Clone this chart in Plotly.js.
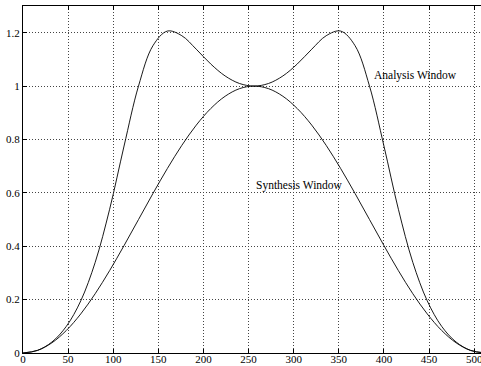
<!DOCTYPE html>
<html>
<head>
<meta charset="utf-8">
<script src="https://cdn.plot.ly/plotly-3.0.1.min.js"></script>
<style>
html,body{margin:0;padding:0;overflow:hidden;background:#fff;}
#chart{width:486px;height:366px;}
</style>
</head>
<body>
<div id="chart"></div>
<script>
// Sample index
const samples = [0,16,32,48,64,80,96,112,128,144,160,176,192,208,224,240,256,
  272,288,304,320,336,352,368,384,400,416,432,448,464,480,496,512];
// Synthesis window values
const synthesis = [0,0.0096,0.0381,0.0843,0.1464,0.2222,0.3087,0.4025,0.5,0.5976,0.6913,0.7778,0.8536,0.9157,0.9619,0.9904,1.0,
  0.9904,0.9619,0.9157,0.8536,0.7778,0.6913,0.5976,0.5,0.4025,0.3087,0.2222,0.1464,0.0843,0.0381,0.0096,0];
// Analysis window values
const analysis = [0,0.0098,0.0411,0.0997,0.1953,0.3396,0.5385,0.7754,1.0,1.1513,1.2061,1.1887,1.1381,1.0829,1.0379,1.0096,1.0,
  1.0096,1.0379,1.0829,1.1381,1.1887,1.2061,1.1513,1.0,0.7754,0.5385,0.3396,0.1953,0.0997,0.0411,0.0098,0];
const xTicks = [0,50,100,150,200,250,300,350,400,450,500];
const yTicks = [0,0.2,0.4,0.6,0.8,1,1.2];
const yTickText = ['0','0.2','0.4','0.6','0.8','1','1.2'];
const labels = ['Analysis Window','Synthesis Window'];

const lineStyle = {color:'#000', width:0.9, shape:'spline', smoothing:1};
const traces = [
  {x:samples, y:analysis, mode:'lines', line:lineStyle, hoverinfo:'skip'},
  {x:samples, y:synthesis, mode:'lines', line:lineStyle, hoverinfo:'skip'}
];
const axisCommon = {
  showline:true, linecolor:'#000', linewidth:1, mirror:'ticks',
  ticks:'inside', ticklen:4, tickcolor:'#000',
  showgrid:true, gridcolor:'#444', gridwidth:1, griddash:'1px,2px',
  zeroline:false, tickfont:{family:'Liberation Serif, Times New Roman, serif', size:11, color:'#000'}
};
const layout = {
  width:486, height:366,
  margin:{l:23, r:1, t:6, b:13},
  paper_bgcolor:'#fff', plot_bgcolor:'#fff',
  showlegend:false,
  xaxis:Object.assign({}, axisCommon, {range:[0,512], tickvals:xTicks, ticktext:xTicks.map(String), ticklabelstandoff:-4}),
  yaxis:Object.assign({}, axisCommon, {range:[0,1.3], tickvals:yTicks, ticktext:yTickText}),
  annotations:[
    {x:387, y:1.04, xref:'x', yref:'y', text:labels[0], showarrow:false, xanchor:'left', yanchor:'middle',
     font:{family:'Liberation Serif, Times New Roman, serif', size:11.5, color:'#000'}},
    {x:256, y:0.628, xref:'x', yref:'y', text:labels[1], showarrow:false, xanchor:'left', yanchor:'middle',
     font:{family:'Liberation Serif, Times New Roman, serif', size:11.5, color:'#000'}}
  ]
};
Plotly.newPlot('chart', traces, layout, {staticPlot:true, displayModeBar:false});
</script>
</body>
</html>
